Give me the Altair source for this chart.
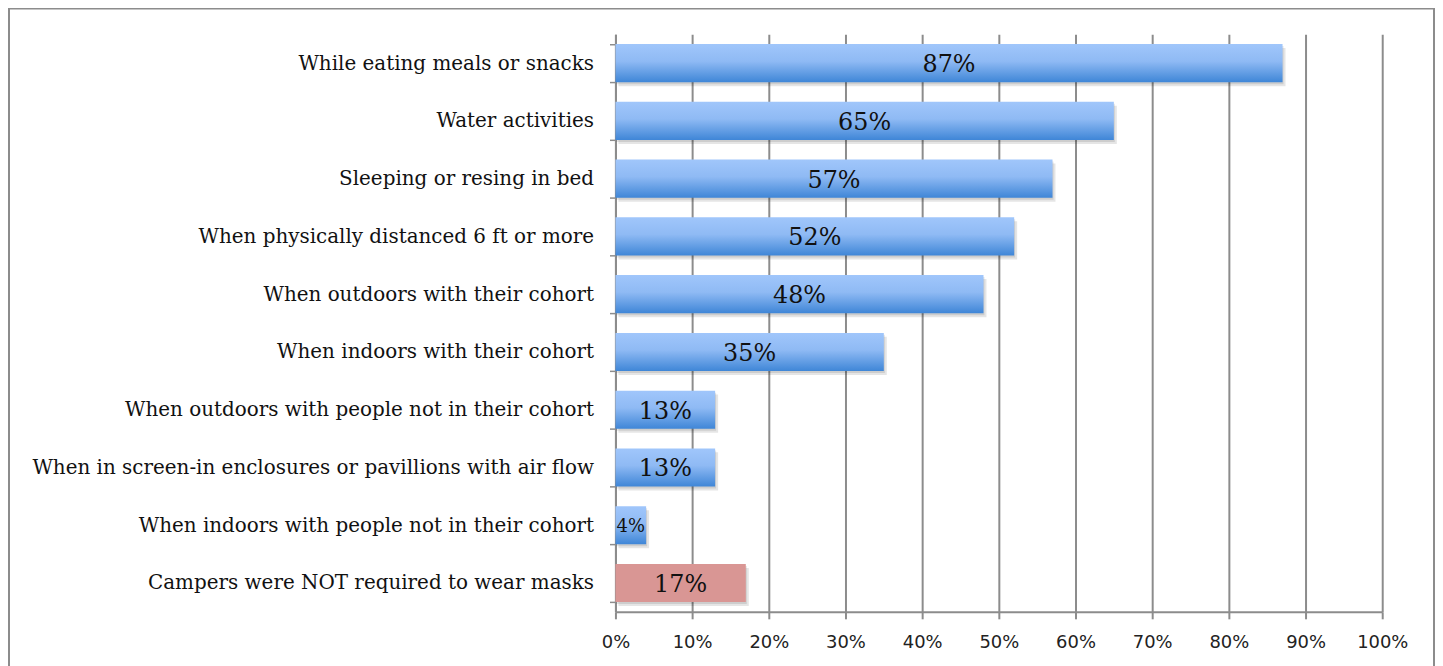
import altair as alt
import pandas as pd

categories = [
    "While eating meals or snacks",
    "Water activities",
    "Sleeping or resing in bed",
    "When physically distanced 6 ft or more",
    "When outdoors with their cohort",
    "When indoors with their cohort",
    "When outdoors with people not in their cohort",
    "When in screen-in enclosures or pavillions with air flow",
    "When indoors with people not in their cohort",
    "Campers were NOT required to wear masks",
]
values = [87, 65, 57, 52, 48, 35, 13, 13, 4, 17]
groups = ["req"] * 9 + ["not"]

df = pd.DataFrame({"cat": categories, "value": values, "group": groups})

blue_grad = alt.Gradient(
    gradient="linear",
    stops=[
        alt.GradientStop(color="#a0c6fb", offset=0),
        alt.GradientStop(color="#8fbaf4", offset=0.45),
        alt.GradientStop(color="#3f86d7", offset=1),
    ],
    x1=0, x2=0, y1=0, y2=1,
)

x_enc = alt.X(
    "value:Q",
    scale=alt.Scale(domain=[0, 100], nice=False),
    axis=alt.Axis(
        values=list(range(0, 101, 10)),
        labelExpr="datum.value + '%'",
        title=None,
        grid=True,
        gridColor="#8c8c8c",
        gridWidth=2,
        domainColor="#8c8c8c",
        domainWidth=2,
        tickColor="#8c8c8c",
        tickWidth=2,
        tickSize=7,
        labelFlush=False,
        labelOverlap=False,
        labelFont="DejaVu Sans",
        labelFontSize=18,
        labelColor="#222222",
        labelPadding=15,
    ),
)
y_enc = alt.Y(
    "cat:N",
    sort=categories,
    scale=alt.Scale(paddingInner=0.34, paddingOuter=0.17),
    axis=alt.Axis(
        title=None,
        domainColor="#8c8c8c",
        domainWidth=2,
        tickColor="#8c8c8c",
        tickWidth=1.5,
        tickSize=6,
        tickBand="extent",
        labelFont="DejaVu Serif",
        labelFontSize=20,
        labelColor="#111111",
        labelPadding=16,
        labelLimit=700,
    ),
)

base = alt.Chart(df)

shadow1 = base.mark_bar(color="#000000", opacity=0.10, xOffset=3, yOffset=4).encode(x=x_enc, y=y_enc)
shadow2 = base.mark_bar(color="#000000", opacity=0.10, xOffset=1, yOffset=2).encode(x=x_enc, y=y_enc)
blue = base.transform_filter(alt.datum.group == "req").mark_bar(color=blue_grad).encode(x=x_enc, y=y_enc)
red = base.transform_filter(alt.datum.group == "not").mark_bar(color="#d99694").encode(x=x_enc, y=y_enc)

labels = base.transform_calculate(
    mid="datum.value / 2", lab="datum.value + '%'"
).mark_text(font="DejaVu Serif", color="#111111", baseline="middle", align="center", dy=2).encode(
    x=alt.X("mid:Q"),
    y=alt.Y("cat:N", sort=categories),
    text="lab:N",
    size=alt.condition(alt.datum.value < 5, alt.value(18), alt.value(24)),
)

border = alt.Chart(pd.DataFrame({"a": [0]})).mark_rect(
    fill=None, stroke="#8c8c8c", strokeWidth=2
).encode(
    x=alt.value(-609),
    x2=alt.value(822),
    y=alt.value(-26),
    y2=alt.value(700),
)

chart = alt.layer(border, shadow1, shadow2, blue, red, labels).properties(
    width=770,
    height=580,
    autosize=alt.AutoSizeParams(type="none"),
    padding={"left": 610, "top": 25, "right": 53, "bottom": 53},
).configure_view(stroke=None)

chart.save("out.html", embed_options={"renderer": "svg", "actions": False})
